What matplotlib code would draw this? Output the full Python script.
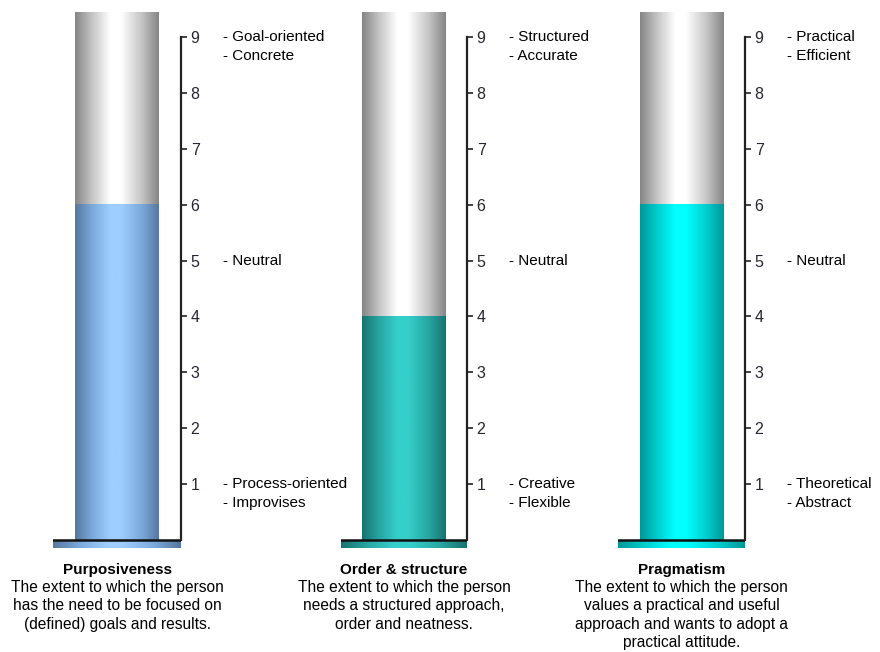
import numpy as np
import matplotlib.pyplot as plt
from matplotlib.colors import LinearSegmentedColormap

plt.rcParams['font.family'] = ['Liberation Sans', 'DejaVu Sans']

# data
scales = ['Purposiveness', 'Order & structure', 'Pragmatism']
scores = [6, 4, 6]
descriptions = [
    'The extent to which the person\nhas the need to be focused on\n(defined) goals and results.',
    'The extent to which the person\nneeds a structured approach,\norder and neatness.',
    'The extent to which the person\nvalues a practical and useful\napproach and wants to adopt a\npractical attitude.',
]
high_labels = [['Goal-oriented', 'Concrete'], ['Structured', 'Accurate'], ['Practical', 'Efficient']]
low_labels = [['Process-oriented', 'Improvises'], ['Creative', 'Flexible'], ['Theoretical', 'Abstract']]
mid_label = 'Neutral'
ticks = list(range(1, 10))

# colours: (edge, mid, highlight)
fill_colors = [('#56779f', '#7ba8da', '#9dceff'),
               ('#187370', '#27a5a1', '#35cfcb'),
               ('#009797', '#00cccc', '#00ffff')]
glass = ('#858585', '#c4c4c4', '#ffffff')

W, H = 880, 652
fig = plt.figure(figsize=(W / 100, H / 100), dpi=100)

# panel geometry in pixels: plate left, axis x
panels = [(53, 181), (341, 467), (618, 745)]
top_px, bot_px = 12, 548
ymin, ymax = -0.145, 9.45


def cyl_cmap(c):
    edge, mid, hi = c
    return LinearSegmentedColormap.from_list(
        'cyl', [(0, edge), (0.2, mid), (0.42, hi), (0.55, hi), (0.8, mid), (1, edge)])


grad = np.linspace(0, 1, 256).reshape(1, -1)

for i, (left, right) in enumerate(panels):
    ax = fig.add_axes([left / W, 1 - bot_px / H, (right - left) / W, (bot_px - top_px) / H])
    ax.patch.set_visible(False)
    half = (right - left) / 2 / 84  # plate half width in bar widths

    fcm = cyl_cmap(fill_colors[i])
    gcm = cyl_cmap(glass)
    # empty glass part
    ax.imshow(grad, cmap=gcm, extent=(-0.5, 0.5, scores[i], ymax), aspect='auto', interpolation='bilinear')
    # filled part
    ax.imshow(grad, cmap=fcm, extent=(-0.5, 0.5, 0, scores[i]), aspect='auto', interpolation='bilinear')
    # base plate
    ax.imshow(grad, cmap=fcm, extent=(-half, half, ymin, -0.01), aspect='auto', interpolation='bilinear')
    ax.axhline(0, color='#111111', lw=1.8)
    ax.set_xlim(-half, half)
    ax.set_ylim(ymin, ymax)

    for s in ['top', 'left', 'bottom']:
        ax.spines[s].set_visible(False)
    ax.spines['right'].set_bounds(0, 9)
    ax.spines['right'].set_linewidth(1.6)
    ax.spines['right'].set_color('#222222')
    ax.set_xticks([])
    ax.yaxis.tick_right()
    ax.set_yticks(ticks)
    ax.tick_params(axis='y', direction='out', length=4, width=1.2, pad=3,
                   labelsize=11.5, labelcolor='#262633', color='#222222')

    lab_kw = dict(xycoords=('axes fraction', 'data'), textcoords='offset pixels',
                  fontsize=11, va='center', ha='left', color='black', annotation_clip=False)
    for k, t in enumerate(high_labels[i]):
        ax.annotate('- ' + t, xy=(1, 9), xytext=(42, -19 * k), **lab_kw)
    ax.annotate('- ' + mid_label, xy=(1, 5), xytext=(42, 0), **lab_kw)
    for k, t in enumerate(low_labels[i]):
        ax.annotate('- ' + t, xy=(1, 1), xytext=(42, -19 * k), **lab_kw)

    cx = (left + right) / 2 / W
    fig.text(cx, 1 - 570 / H, scales[i], ha='center', va='center', fontsize=11, fontweight='bold')
    fig.text(cx, 1 - 580 / H, descriptions[i], ha='center', va='top', fontsize=11.2, linespacing=1.28)

fig.savefig('out.png', dpi=100)
